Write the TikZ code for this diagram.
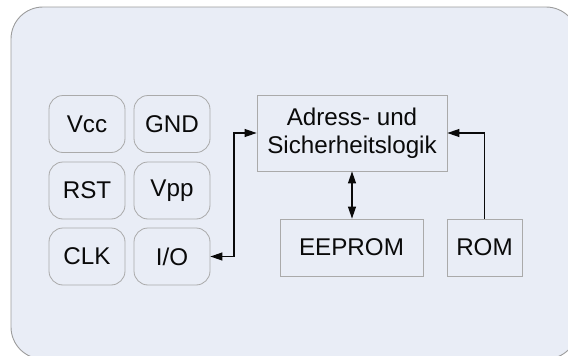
\documentclass[tikz,border=0pt]{standalone}
\usepackage{fontspec}
\setmainfont{Liberation Sans}
\usetikzlibrary{arrows.meta}
\definecolor{panelfill}{HTML}{E9EDF6}
\definecolor{panelline}{HTML}{9C9C9C}
\definecolor{boxline}{HTML}{AAAAAA}
\definecolor{ink}{HTML}{0A0A0A}
\tikzset{
  pin/.style={draw=boxline, line width=0.8pt, rounded corners=14pt,
    minimum width=76pt, minimum height=57pt, inner sep=0pt,
    text=ink, font=\fontsize{24.2}{28}\selectfont},
  block/.style={draw=boxline, line width=0.8pt, inner sep=0pt,
    text=ink, font=\fontsize{24.2}{28}\selectfont, align=center},
  link/.style={draw=ink, line width=1.1pt,
    arrows={-Triangle[length=12pt,width=8pt]}},
  dlink/.style={draw=ink, line width=1.1pt,
    arrows={Triangle[length=12pt,width=8pt]-Triangle[length=12pt,width=8pt]}}
}
\begin{document}
\begin{tikzpicture}[x=1pt,y=-1pt]
  \useasboundingbox (0,0) rectangle (568,356);
  \clip (0,0) rectangle (568,356);
  % card body
  \draw[fill=panelfill, draw=panelline, line width=0.9pt, rounded corners=32pt]
    (11,7) rectangle (578,359);

  % contact pads
  \node[pin] (vcc) at (87,124)   {Vcc};
  \node[pin] (gnd) at (172,124)  {GND};
  \node[pin] (rst) at (87,190.5) {RST};
  \node[pin] (vpp) at (172,190.5){Vpp};
  \node[pin] (clk) at (87,256.5) {CLK};
  \node[pin] (io)  at (172,256.5){I/O};

  % logic and memories
  \node[block, minimum width=190pt, minimum height=76pt] (adr) at (352,133)
    {Adress- und\\Sicherheitslogik};
  \node[block, minimum width=143pt, minimum height=57pt] (eep) at (351.5,247.5) {EEPROM};
  \node[block, minimum width=75pt, minimum height=57pt] (rom) at (484.5,247.5) {ROM};

  % connections
  \coordinate (bend) at (234,256.5);
  \draw[dlink] (io.east) -- (bend) |- (adr.west);
  \draw[dlink] (adr.south) -- (adr.south |- eep.north);
  \draw[link] (rom.north) |- (adr.east);
\end{tikzpicture}
\end{document}
